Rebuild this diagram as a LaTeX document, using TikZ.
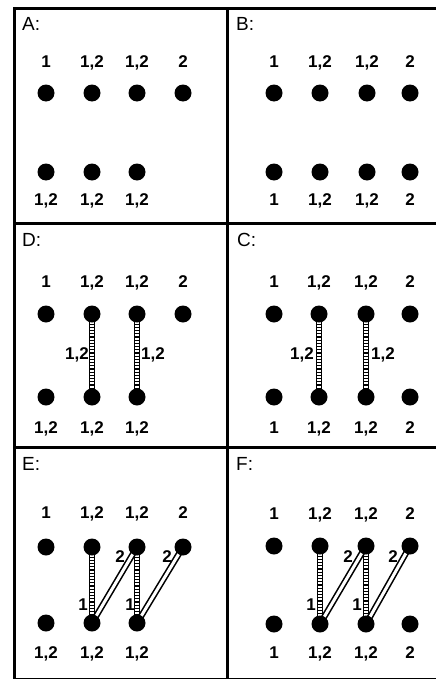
\documentclass[tikz,border=0pt]{standalone}
\usepackage{fontspec}
\setmainfont{Liberation Sans}
\usetikzlibrary{backgrounds}

\tikzset{
  dotnode/.style={circle,fill=black,inner sep=0pt,minimum size=17pt},
  numlabel/.style={font=\fontsize{17}{17}\selectfont\bfseries,inner sep=0pt,text height=12pt,text depth=0pt},
  panelname/.style={font=\fontsize{19}{19}\selectfont,anchor=west,inner sep=0pt,text height=13.5pt,text depth=0pt},
  hatchedge/.style={line width=6.8pt,postaction={draw=white,line width=3.8pt},
    postaction={draw=black,line width=3.8pt,dash pattern=on 1.2pt off 2pt}},
  dbledge/.style={double=white,double distance=3pt,line width=1.6pt},
  frameline/.style={line width=3pt}
}

\begin{document}
\begin{tikzpicture}[x=1pt,y=-1pt]
  \useasboundingbox (0,0) rectangle (436,680);
  % frame
  \draw[frameline] (440,8) -- (14,8) -- (14,679);
  \draw[line width=0.8pt] (14,678) -- (440,678);
  \draw[frameline] (14,223) -- (440,223);
  \draw[frameline] (14,447) -- (440,447);
  \draw[frameline] (227,8) -- (227,679);

  % A
  \node[panelname] (Aname) at (22,24) {A:};
  \foreach \i/\x/\t in {1/46/1,2/92/{1,2},3/137/{1,2},4/183/2}{
    \node[dotnode] (A-t\i) at (\x,93) {};
    \node[numlabel] (A-tl\i) at (\x,61) {\t};
  }
  \foreach \i/\x in {1/46,2/92,3/137}{
    \node[dotnode] (A-b\i) at (\x,172) {};
    \node[numlabel] (A-bl\i) at (\x,199) {1,2};
  }

  % B
  \node[panelname] (Bname) at (236,24) {B:};
  \foreach \i/\x/\t in {1/274/1,2/320/{1,2},3/367/{1,2},4/410/2}{
    \node[dotnode] (B-t\i) at (\x,93) {};
    \node[numlabel] (B-tl\i) at (\x,61) {\t};
    \node[dotnode] (B-b\i) at (\x,172) {};
    \node[numlabel] (B-bl\i) at (\x,199) {\t};
  }

  % D
  \node[panelname] (Dname) at (22,240) {D:};
  \foreach \i/\x/\t in {1/46/1,2/92/{1,2},3/137/{1,2},4/183/2}{
    \node[dotnode] (D-t\i) at (\x,314) {};
    \node[numlabel] (D-tl\i) at (\x,281) {\t};
  }
  \foreach \i/\x in {1/46,2/92,3/137}{
    \node[dotnode] (D-b\i) at (\x,397) {};
    \node[numlabel] (D-bl\i) at (\x,427) {1,2};
  }
  \node[numlabel] (D-e1) at (77,353) {1,2};
  \node[numlabel] (D-e2) at (153,353) {1,2};

  % C
  \node[panelname] (Cname) at (237,240) {C:};
  \foreach \i/\x/\t in {1/274/1,2/319/{1,2},3/366/{1,2},4/410/2}{
    \node[dotnode] (C-t\i) at (\x,314) {};
    \node[numlabel] (C-tl\i) at (\x,281) {\t};
    \node[dotnode] (C-b\i) at (\x,397) {};
    \node[numlabel] (C-bl\i) at (\x,427) {\t};
  }
  \node[numlabel] (C-e1) at (302,353) {1,2};
  \node[numlabel] (C-e2) at (383,353) {1,2};

  % E
  \node[panelname] (Ename) at (22,464) {E:};
  \foreach \i/\x/\t in {1/46/1,2/92/{1,2},3/137/{1,2},4/183/2}{
    \node[dotnode] (E-t\i) at (\x,547) {};
    \node[numlabel] (E-tl\i) at (\x,512) {\t};
  }
  \foreach \i/\x in {1/46,2/92,3/137}{
    \node[dotnode] (E-b\i) at (\x,623) {};
    \node[numlabel] (E-bl\i) at (\x,652) {1,2};
  }
  \node[numlabel] (E-v1) at (83,604) {1};
  \node[numlabel] (E-v2) at (130,604) {1};
  \node[numlabel] (E-d1) at (120,556) {2};
  \node[numlabel] (E-d2) at (167,556) {2};

  % F
  \node[panelname] (Fname) at (236,464) {F:};
  \foreach \i/\x/\t in {1/274/1,2/320/{1,2},3/366/{1,2},4/410/2}{
    \node[dotnode] (F-t\i) at (\x,546) {};
    \node[numlabel] (F-tl\i) at (\x,513) {\t};
    \node[dotnode] (F-b\i) at (\x,624) {};
    \node[numlabel] (F-bl\i) at (\x,652) {\t};
  }
  \node[numlabel] (F-v1) at (311,604) {1};
  \node[numlabel] (F-v2) at (357,604) {1};
  \node[numlabel] (F-d1) at (348,556) {2};
  \node[numlabel] (F-d2) at (393,556) {2};

  % edges under the dots
  \begin{scope}[on background layer]
    \draw[hatchedge] (D-t2.center) -- (D-b2.center);
    \draw[hatchedge] (D-t3.center) -- (D-b3.center);
    \draw[hatchedge] (C-t2.center) -- (C-b2.center);
    \draw[hatchedge] (C-t3.center) -- (C-b3.center);
    \draw[hatchedge] (E-t2.center) -- (E-b2.center);
    \draw[hatchedge] (E-t3.center) -- (E-b3.center);
    \draw[dbledge] (E-b2.center) -- (E-t3.center);
    \draw[dbledge] (E-b3.center) -- (E-t4.center);
    \draw[hatchedge] (F-t2.center) -- (F-b2.center);
    \draw[hatchedge] (F-t3.center) -- (F-b3.center);
    \draw[dbledge] (F-b2.center) -- (F-t3.center);
    \draw[dbledge] (F-b3.center) -- (F-t4.center);
  \end{scope}
\end{tikzpicture}
\end{document}
